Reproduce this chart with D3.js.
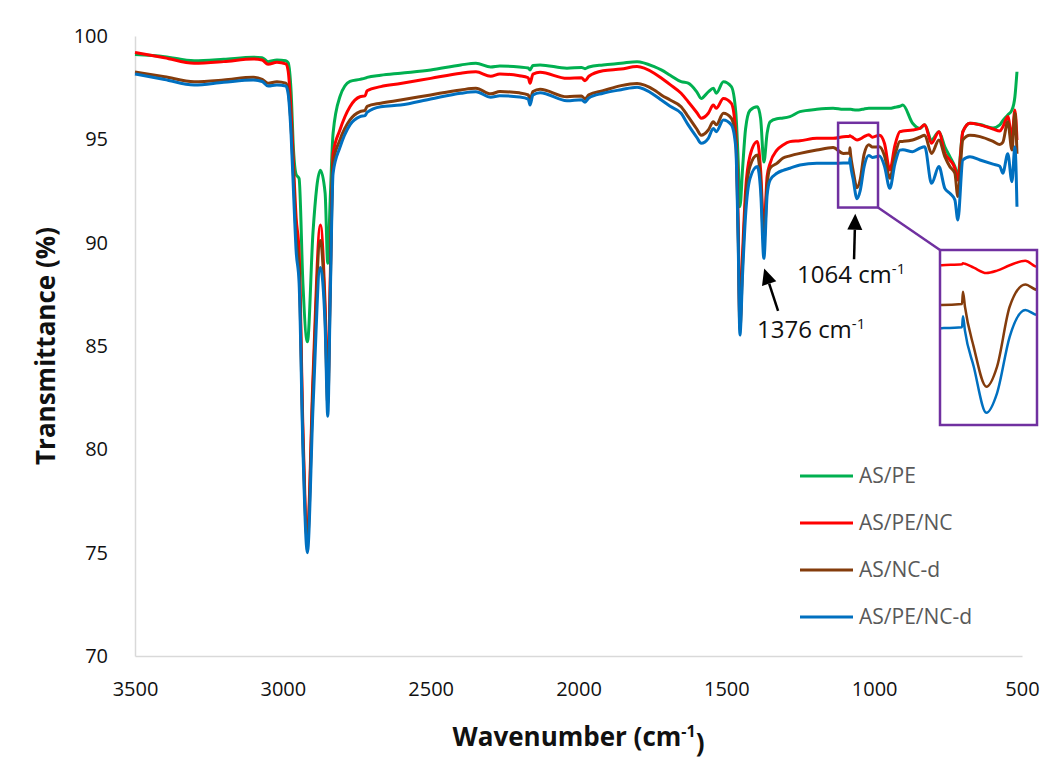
<!DOCTYPE html>
<html>
<head>
<meta charset="utf-8">
<script src="https://cdn.jsdelivr.net/npm/d3@7"></script>
<style>
  body { margin: 0; background: #fff; }
  text { font-family: "Open Sans", "DejaVu Sans", sans-serif; }
</style>
</head>
<body>
<div id="chart"></div>
<script>
// Wellenzahlen (cm-1) und die vier Spektren
const wavenumbers = [3500, 3400, 3300, 3200, 3100, 3070, 3050, 3020, 2990, 2982, 2972, 2964, 2955, 2945, 2932, 2917, 2898, 2873, 2857, 2848, 2840, 2830, 2807, 2773, 2739, 2722, 2715, 2669, 2602, 2500, 2398, 2347, 2297, 2266, 2200, 2170, 2164, 2154, 2130, 2039, 1990, 1978, 1965, 1917, 1856, 1802, 1744, 1720, 1690, 1653, 1629, 1600, 1585, 1561, 1544, 1534, 1510, 1483, 1468, 1460, 1454, 1445, 1435, 1420, 1395, 1384, 1373, 1362, 1352, 1329, 1308, 1285, 1251, 1194, 1139, 1104, 1083, 1082, 1080, 1071, 1058, 1047, 1034, 1018, 1006, 982, 965, 947, 930, 913, 903, 870, 846, 829, 806, 781, 761, 744, 727, 717, 700, 676, 642, 598, 575, 565, 548, 534, 524, 517];

const asPE = [99.1, 99.0, 98.8, 98.87, 98.97, 98.95, 98.76, 98.84, 98.8, 98.7, 97.3, 94.5, 93.3, 93.1, 88.0, 85.2, 90.5, 93.5, 92.4, 89.0, 92.0, 95.3, 97.06, 97.8, 97.9, 97.96, 98.0, 98.1, 98.2, 98.35, 98.6, 98.68, 98.5, 98.55, 98.5, 98.45, 98.36, 98.57, 98.6, 98.44, 98.48, 98.42, 98.5, 98.6, 98.68, 98.76, 98.52, 98.36, 98.1, 97.79, 97.72, 97.3, 96.98, 97.3, 97.47, 97.23, 97.79, 97.55, 96.3, 94.0, 91.74, 93.6, 95.5, 96.4, 96.58, 96.0, 93.9, 95.3, 95.85, 96.0, 96.03, 96.1, 96.34, 96.45, 96.5, 96.45, 96.45, 96.45, 96.45, 96.43, 96.42, 96.43, 96.47, 96.5, 96.5, 96.5, 96.5, 96.5, 96.55, 96.6, 96.66, 95.78, 95.53, 95.7, 94.97, 95.37, 94.64, 94.16, 93.68, 93.27, 95.37, 95.78, 95.72, 95.55, 95.7, 95.9, 96.18, 96.42, 97.06, 98.27];

const asPENC = [99.2, 98.95, 98.68, 98.76, 98.89, 98.84, 98.63, 98.73, 98.65, 98.3, 96.3, 93.8, 91.2, 89.55, 81.0, 76.0, 83.5, 90.86, 87.0, 82.8, 88.0, 94.3, 95.45, 96.58, 97.06, 97.1, 97.35, 97.55, 97.7, 97.95, 98.2, 98.27, 98.05, 98.16, 98.08, 97.98, 97.71, 98.16, 98.24, 97.95, 97.98, 97.84, 98.05, 98.32, 98.4, 98.52, 98.2, 97.97, 97.65, 97.23, 96.82, 96.3, 96.02, 96.26, 96.66, 96.5, 96.98, 96.74, 95.3, 91.0, 86.1, 89.5, 92.5, 94.2, 94.89, 93.5, 90.6, 93.2, 93.84, 94.48, 94.73, 94.89, 94.93, 95.05, 95.05, 95.13, 95.15, 95.17, 95.16, 95.08, 94.97, 95.02, 95.13, 95.22, 95.1, 95.2, 94.8, 93.52, 94.7, 95.37, 95.4, 95.45, 95.53, 95.7, 94.81, 95.37, 94.32, 94.0, 93.6, 93.03, 95.37, 95.78, 95.7, 95.5, 95.4, 95.6, 96.1, 95.13, 96.42, 94.97];

const asNCd = [98.26, 98.03, 97.79, 97.87, 98.0, 97.9, 97.71, 97.79, 97.72, 97.4, 95.6, 93.2, 90.3, 88.8, 80.5, 75.6, 83.0, 90.1, 86.5, 82.2, 87.5, 93.85, 94.97, 95.94, 96.34, 96.4, 96.6, 96.75, 96.9, 97.15, 97.39, 97.47, 97.2, 97.31, 97.25, 97.15, 96.9, 97.31, 97.42, 97.06, 97.1, 96.96, 97.15, 97.35, 97.6, 97.7, 97.39, 97.15, 96.9, 96.58, 96.1, 95.5, 95.2, 95.45, 95.85, 95.7, 96.26, 96.02, 94.9, 90.5, 85.8, 89.0, 92.0, 93.7, 94.24, 93.0, 90.0, 92.8, 93.6, 93.84, 94.1, 94.2, 94.32, 94.48, 94.6, 94.32, 94.34, 94.59, 94.29, 93.47, 92.66, 93.07, 94.29, 94.74, 94.63, 94.64, 94.2, 93.12, 94.2, 94.89, 94.9, 94.97, 95.1, 95.2, 94.32, 94.97, 94.16, 93.68, 93.36, 92.23, 94.97, 95.2, 95.13, 94.9, 94.75, 94.85, 95.85, 94.48, 96.26, 94.3];

const asPENCd = [98.16, 97.9, 97.63, 97.76, 97.87, 97.8, 97.58, 97.63, 97.58, 97.2, 95.2, 92.5, 89.6, 88.05, 80.0, 75.0, 82.0, 88.8, 86.0, 81.6, 87.0, 93.37, 94.6, 95.7, 96.1, 96.15, 96.3, 96.58, 96.66, 96.95, 97.23, 97.3, 97.04, 97.11, 97.05, 96.95, 96.66, 97.15, 97.26, 96.87, 96.92, 96.8, 97.0, 97.23, 97.4, 97.52, 97.15, 96.9, 96.6, 96.26, 95.7, 95.1, 94.81, 95.05, 95.53, 95.37, 95.94, 95.7, 94.6, 90.0, 85.53, 88.5, 91.3, 93.1, 93.68, 92.5, 89.24, 92.3, 93.03, 93.36, 93.5, 93.6, 93.76, 93.84, 93.84, 93.85, 93.87, 94.09, 93.8, 93.07, 92.13, 92.53, 93.68, 94.22, 94.12, 94.19, 93.7, 92.63, 93.8, 94.48, 94.5, 94.4, 94.57, 94.64, 92.87, 93.68, 92.63, 92.39, 92.07, 91.1, 94.0, 94.16, 94.0, 93.8, 93.7, 93.36, 94.3, 92.95, 94.64, 91.74];

const seriesNames = ["AS/PE", "AS/PE/NC", "AS/NC-d", "AS/PE/NC-d"];
const seriesColors = ["#00b050", "#ff0000", "#843c0c", "#0070c0"];
const xTickValues = [3500, 3000, 2500, 2000, 1500, 1000, 500];
const yTickValues = [70, 75, 80, 85, 90, 95, 100];

// Ausschnitt, der im Kasten vergrößert wird (Wellenzahl / Transmission)
const zoomWindow = [1122, 987];
const zoomWindowT = [91.7, 95.8];
const insetWindow = [1105.6, 1006];
const insetWindowT = [91.88, 95.44];

const width = 1054, height = 766;
const margin = { top: 36, right: 32, bottom: 110, left: 135 };

const allSeries = [asPE, asPENC, asNCd, asPENCd].map((vals, i) => ({
  name: seriesNames[i],
  color: seriesColors[i],
  points: wavenumbers.map((w, j) => ({ w: w, t: vals[j] }))
}));

const svg = d3.select("#chart")
  .append("svg")
  .attr("width", width)
  .attr("height", height);

const xScale = d3.scaleLinear()
  .domain([3500, 500])
  .range([margin.left, width - margin.right]);

const yScale = d3.scaleLinear()
  .domain([70, 100])
  .range([height - margin.bottom, margin.top]);

// Achsen
const bottomAxis = d3.axisBottom(xScale)
  .tickValues(xTickValues)
  .tickSize(0)
  .tickPadding(26)
  .tickFormat(d3.format("d"));

const xAxisG = svg.append("g")
  .attr("transform", `translate(0, ${yScale(70)})`)
  .call(bottomAxis);
xAxisG.select(".domain").attr("stroke", "#d9d9d9").attr("stroke-width", 1.5);
xAxisG.selectAll("text")
  .style("font-size", "20px")
  .attr("fill", "#111");

const leftAxis = d3.axisLeft(yScale)
  .tickValues(yTickValues)
  .tickSize(0)
  .tickPadding(27);

const yAxisG = svg.append("g")
  .attr("transform", `translate(${xScale(3500)}, 0)`)
  .call(leftAxis);
yAxisG.select(".domain").attr("stroke", "#d9d9d9").attr("stroke-width", 1.5);
yAxisG.selectAll("text")
  .style("font-size", "20px")
  .attr("fill", "#111");

// Achsentitel
const xTitle = svg.append("text")
  .attr("x", (xScale.range()[0] + xScale.range()[1]) / 2)
  .attr("y", 746)
  .attr("text-anchor", "middle")
  .style("font-size", "26px")
  .style("font-weight", "bold")
  .attr("fill", "#111")
  .text("Wavenumber (cm");
xTitle.append("tspan").attr("dy", "-0.55em").style("font-size", "16px").text("-1");
xTitle.append("tspan").attr("dy", "0.55em").text(")");

svg.append("text")
  .attr("transform", `translate(55, ${(yScale(70) + yScale(100)) / 2}) rotate(-90)`)
  .attr("text-anchor", "middle")
  .style("font-size", "26px")
  .style("font-weight", "bold")
  .attr("fill", "#111")
  .text("Transmittance (%)");

// Linien
const line = d3.line()
  .x(d => xScale(d.w))
  .y(d => yScale(d.t))
  .curve(d3.curveMonotoneX);

svg.append("g")
  .selectAll("path")
  .data(allSeries)
  .join("path")
  .attr("d", d => line(d.points))
  .attr("fill", "none")
  .attr("stroke", d => d.color)
  .attr("stroke-width", 3)
  .attr("stroke-linejoin", "round");

// Kasten um den Ausschnitt
const purple = "#7030a0";
const bx0 = xScale(zoomWindow[0]), bx1 = xScale(zoomWindow[1]);
const by0 = yScale(zoomWindowT[1]), by1 = yScale(zoomWindowT[0]);
svg.append("rect")
  .attr("x", bx0).attr("y", by0)
  .attr("width", bx1 - bx0).attr("height", by1 - by0)
  .attr("fill", "none").attr("stroke", purple).attr("stroke-width", 2.5);

// Vergrößerung
const inset = { x: 940, y: 250, w: 97, h: 175 };
const insetX = d3.scaleLinear().domain(insetWindow).range([inset.x, inset.x + inset.w]);
const insetY = d3.scaleLinear().domain(insetWindowT).range([inset.y + inset.h, inset.y]);

svg.append("line")
  .attr("x1", bx1).attr("y1", by1)
  .attr("x2", inset.x).attr("y2", inset.y)
  .attr("stroke", purple).attr("stroke-width", 2.5);

svg.append("clipPath").attr("id", "insetClip")
  .append("rect")
  .attr("x", inset.x).attr("y", inset.y)
  .attr("width", inset.w).attr("height", inset.h);

const insetLine = d3.line()
  .x(d => insetX(d.w))
  .y(d => insetY(d.t))
  .curve(d3.curveMonotoneX);

svg.append("g")
  .attr("clip-path", "url(#insetClip)")
  .selectAll("path")
  .data(allSeries)
  .join("path")
  .attr("d", d => insetLine(d.points.filter(p => p.w <= 1140 && p.w >= 980)))
  .attr("fill", "none")
  .attr("stroke", d => d.color)
  .attr("stroke-width", 2.5);

svg.append("rect")
  .attr("x", inset.x).attr("y", inset.y)
  .attr("width", inset.w).attr("height", inset.h)
  .attr("fill", "none").attr("stroke", purple).attr("stroke-width", 2.5);

// Pfeile und Beschriftungen
const arrow = (x1, y1, x2, y2) => {
  const ang = Math.atan2(y2 - y1, x2 - x1);
  const len = 16, half = 7.5;
  const bx = x2 - len * Math.cos(ang), by = y2 - len * Math.sin(ang);
  svg.append("line")
    .attr("x1", x1).attr("y1", y1).attr("x2", bx).attr("y2", by)
    .attr("stroke", "#000").attr("stroke-width", 2.5);
  svg.append("path")
    .attr("d", `M${x2},${y2} L${bx + half * Math.sin(ang)},${by - half * Math.cos(ang)} L${bx - half * Math.sin(ang)},${by + half * Math.cos(ang)} Z`)
    .attr("fill", "#000");
};

arrow(xScale(1068), yScale(89.2), xScale(1064), yScale(91.4));
arrow(xScale(1325), yScale(86.7), xScale(1372), yScale(88.75));

const label = (x, y, txt) => {
  const t = svg.append("text")
    .attr("x", x).attr("y", y)
    .style("font-size", "24px")
    .attr("fill", "#111")
    .text(txt + " cm");
  t.append("tspan").attr("dy", "-0.6em").style("font-size", "15px").text("-1");
};
label(797, 283, "1064");
label(757, 338, "1376");

// Legende
const legend = svg.append("g")
  .selectAll("g")
  .data(allSeries)
  .join("g")
  .attr("transform", (d, i) => `translate(800, ${476 + i * 47})`);

legend.append("line")
  .attr("x1", 0).attr("x2", 53)
  .attr("stroke", d => d.color)
  .attr("stroke-width", 3);

legend.append("text")
  .attr("x", 59)
  .attr("dy", "0.35em")
  .style("font-size", "21px")
  .attr("fill", "#595959")
  .text(d => d.name);
</script>
</body>
</html>
